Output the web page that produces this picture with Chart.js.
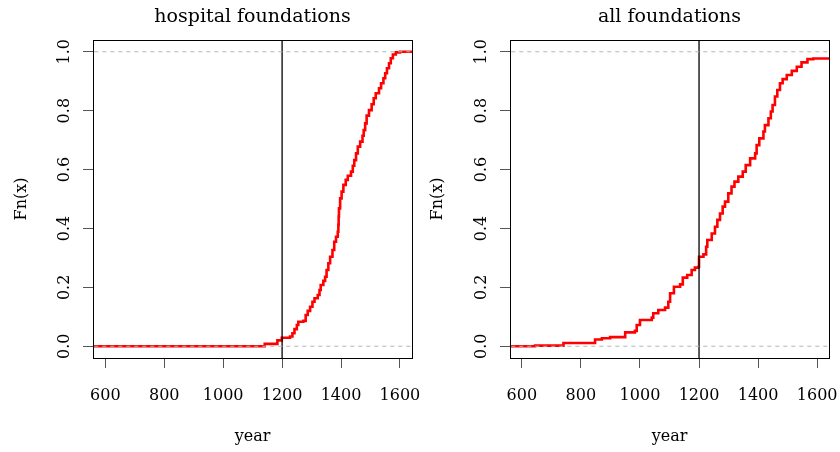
<!DOCTYPE html>
<html>
<head>
<meta charset="utf-8">
<script src="https://cdn.jsdelivr.net/npm/chart.js@4/dist/chart.umd.min.js"></script>
<style>
  html,body{margin:0;padding:0;background:#fff}
  .row{display:flex;width:840px;height:452px}
  canvas{display:block}
</style>
</head>
<body>
<div class="row">
  <canvas id="c-hosp" width="420" height="452"></canvas>
  <canvas id="c-all" width="420" height="452"></canvas>
</div>
<script>
/* ECDF of foundation years, two panels */

/* ── data ── */
var X_TICKS = [600, 800, 1000, 1200, 1400, 1600];
var Y_TICKS = [0, 0.2, 0.4, 0.6, 0.8, 1.0];
var CUT_YEAR = 1200;

// hospital foundations: year of each step, Fn after the step
var hospYears = [500, 1141, 1184, 1199, 1227, 1235, 1242, 1250, 1255, 1272, 1280, 1287, 1295, 1303, 1310, 1321,
  1327, 1331, 1340, 1346, 1351, 1357, 1363, 1371, 1377, 1383, 1389, 1391, 1392, 1393, 1397, 1402, 1408, 1416,
  1423, 1434, 1440, 1445, 1451, 1457, 1465, 1473, 1477, 1482, 1487, 1495, 1504, 1511, 1518, 1529, 1536, 1544,
  1550, 1556, 1563, 1569, 1576, 1586, 1600, 1700];
var hospFn = [0, 0.008, 0.02, 0.029, 0.033, 0.044, 0.058, 0.072, 0.083, 0.086, 0.106, 0.12, 0.134, 0.151, 0.163, 0.174,
  0.191, 0.208, 0.222, 0.236, 0.259, 0.282, 0.304, 0.327, 0.355, 0.372, 0.389, 0.412, 0.44, 0.468, 0.502, 0.525, 0.548, 0.565,
  0.579, 0.593, 0.613, 0.632, 0.655, 0.678, 0.695, 0.715, 0.734, 0.757, 0.783, 0.802, 0.822, 0.842, 0.859, 0.876, 0.893, 0.91,
  0.927, 0.944, 0.961, 0.978, 0.991, 0.998, 1.0, 1.0];

// all foundations
var allYears = [500, 645, 741, 848, 871, 899, 950, 983, 989, 1000, 1040, 1045, 1062, 1085, 1096, 1102, 1115, 1136,
  1145, 1160, 1175, 1186, 1198, 1200, 1215, 1224, 1228, 1243, 1254, 1262, 1271, 1280, 1288, 1299, 1310, 1320,
  1333, 1348, 1358, 1373, 1390, 1395, 1404, 1418, 1423, 1435, 1443, 1449, 1457, 1465, 1474, 1483, 1497, 1514,
  1531, 1547, 1567, 1587, 1700];
var allFn = [0, 0.002, 0.011, 0.023, 0.027, 0.031, 0.047, 0.052, 0.072, 0.089, 0.097, 0.112, 0.123, 0.131, 0.151, 0.18, 0.202, 0.21,
  0.233, 0.242, 0.259, 0.267, 0.27, 0.304, 0.312, 0.338, 0.361, 0.383, 0.406, 0.429, 0.451, 0.474, 0.491, 0.519, 0.542, 0.559,
  0.576, 0.593, 0.615, 0.638, 0.655, 0.683, 0.706, 0.729, 0.751, 0.774, 0.797, 0.819, 0.848, 0.87, 0.893, 0.907, 0.921, 0.935,
  0.949, 0.964, 0.975, 0.977, 0.977];

var FONT = '"DejaVu Serif", "Liberation Serif", serif';

function toPoints(xs, ys){
  return xs.map(function(x, i){ return {x: x, y: ys[i]}; });
}

/* ── box, title and axis titles, R style ── */
var rFrame = {
  id: 'rFrame',
  afterDraw: function(chart, args, opts){
    var a = chart.chartArea, ctx = chart.ctx;
    ctx.save();
    ctx.strokeStyle = '#000';
    ctx.lineWidth = 1;
    ctx.strokeRect(Math.round(a.left) + 0.5, Math.round(a.top) + 0.5,
      Math.round(a.right - a.left), Math.round(a.bottom - a.top));
    ctx.fillStyle = '#000';
    ctx.textAlign = 'center';
    ctx.textBaseline = 'middle';
    ctx.font = '19px ' + FONT;
    ctx.fillText(opts.title, (a.left + a.right) / 2, 17);
    ctx.font = '16px ' + FONT;
    ctx.fillText('year', (a.left + a.right) / 2, 437);
    ctx.translate(opts.ylabX, (a.top + a.bottom) / 2);
    ctx.rotate(-Math.PI / 2);
    ctx.fillText('Fn(x)', 0, 0);
    ctx.restore();
  }
};

function buildPanel(id, title, xs, ys, xMin, xMax, yAxisW, padRight, ylabX){
  var ctx = document.getElementById(id);
  return new Chart(ctx, {
    type: 'line',
    data: {
      datasets: [
        {data: [{x: xMin - 50, y: 0}, {x: xMax + 50, y: 0}], borderColor: '#B3B3B3', borderWidth: 1, borderDash: [4, 4], pointRadius: 0},
        {data: [{x: xMin - 50, y: 1}, {x: xMax + 50, y: 1}], borderColor: '#B3B3B3', borderWidth: 1, borderDash: [4, 4], pointRadius: 0},
        {data: [{x: CUT_YEAR, y: -0.1}, {x: CUT_YEAR, y: 1.1}], borderColor: '#000', borderWidth: 1.3, pointRadius: 0},
        {data: toPoints(xs, ys), borderColor: '#FF0000', borderWidth: 2.6, pointRadius: 0, stepped: 'before'}
      ]
    },
    options: {
      responsive: false,
      animation: false,
      devicePixelRatio: 1,
      layout: {padding: {top: 40, right: padRight, left: 0, bottom: 0}},
      plugins: {legend: {display: false}, tooltip: {enabled: false}, rFrame: {title: title, ylabX: ylabX}},
      scales: {
        x: {
          type: 'linear', min: xMin, max: xMax,
          afterBuildTicks: function(s){ s.ticks = X_TICKS.map(function(v){ return {value: v}; }); },
          afterFit: function(s){ s.height = 94; s.paddingLeft = 0; s.paddingRight = 0; },
          border: {display: false},
          grid: {drawOnChartArea: false, tickLength: 10, color: '#555', tickColor: '#555'},
          ticks: {color: '#000', padding: 18, maxRotation: 0, autoSkip: false, font: {family: FONT, size: 16},
            callback: function(v){ return String(v); }}
        },
        y: {
          type: 'linear', min: -0.04, max: 1.04,
          afterBuildTicks: function(s){ s.ticks = Y_TICKS.map(function(v){ return {value: v}; }); },
          afterFit: function(s){ s.width = yAxisW; s.paddingTop = 0; s.paddingBottom = 0; },
          border: {display: false},
          grid: {drawOnChartArea: false, tickLength: 10, color: '#555', tickColor: '#555'},
          ticks: {color: '#000', padding: 5, minRotation: 90, maxRotation: 90, crossAlign: 'center', autoSkip: false,
            font: {family: FONT, size: 16},
            callback: function(v){ return Number(v).toFixed(1); }}
        }
      }
    },
    plugins: [rFrame]
  });
}

buildPanel('c-hosp', 'hospital foundations', hospYears, hospFn, 558, 1641, 93, 8, 22);
buildPanel('c-all', 'all foundations', allYears, allFn, 560, 1640, 90, 11, 18);
</script>
</body>
</html>
